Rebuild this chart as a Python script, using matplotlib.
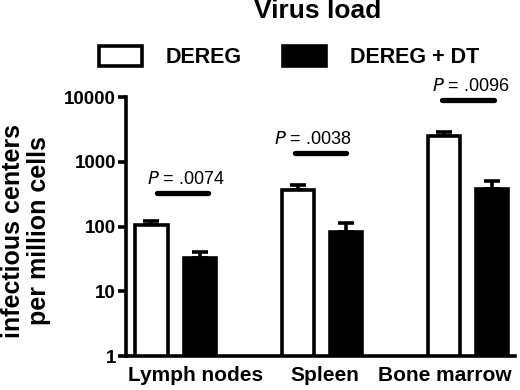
import numpy as np
import matplotlib
matplotlib.use("Agg")
import matplotlib.pyplot as plt
from matplotlib.patches import Patch

plt.rcParams['font.family'] = ['Liberation Sans', 'DejaVu Sans']

tissues = ['Lymph nodes', 'Spleen', 'Bone marrow']
dereg = [105, 365, 2550]
dereg_err = [18, 80, 330]
dereg_dt = [33, 82, 375]
dereg_dt_err = [8, 30, 140]
p_labels = ['.0074', '.0038', '.0096']
p_line_y = [330, 1380, 9000]
p_text_y = [540, 2250, 14500]

x = np.arange(len(tissues))
w = 0.22
off = 0.165
label_shift = [0.137, 0.02, -0.158]
line_lo = [-0.13, -0.185, -0.175]
line_hi = [0.225, 0.165, 0.175]
text_shift = [0.07, -0.06, 0.02]

fig = plt.figure(figsize=(5.2, 3.9), dpi=100)
ax = fig.add_axes([0.242, 0.087, 0.748, 0.664])

ax.bar(x - off, dereg, w, color='white', edgecolor='black', linewidth=2.6, zorder=2)
ax.bar(x + off, dereg_dt, w, color='black', edgecolor='black', linewidth=2.6, zorder=2)
ax.errorbar(x - off, dereg, yerr=[np.zeros(3), dereg_err], fmt='none', ecolor='black',
            elinewidth=2.6, capsize=6, capthick=2.6, zorder=1)
ax.errorbar(x + off, dereg_dt, yerr=[np.zeros(3), dereg_dt_err], fmt='none', ecolor='black',
            elinewidth=2.6, capsize=6, capthick=2.6, zorder=1)

ax.set_yscale('log')
ax.set_ylim(1, 10000)
ax.set_xlim(-0.34, 2.32)
ax.set_yticks([1, 10, 100, 1000, 10000])
ax.set_yticklabels(['1', '10', '100', '1000', '10000'])
ax.yaxis.set_minor_locator(matplotlib.ticker.NullLocator())
ax.set_xticks(x + np.array(label_shift))
ax.set_xticklabels(tissues)

for s in ['top', 'right']:
    ax.spines[s].set_visible(False)
for s in ['left', 'bottom']:
    ax.spines[s].set_linewidth(2.6)
ax.tick_params(axis='y', length=6, width=2.6, labelsize=13.5, pad=1)
ax.tick_params(axis='x', length=0, labelsize=15, pad=7)
for lab in ax.get_xticklabels() + ax.get_yticklabels():
    lab.set_fontweight('bold')

fig.text(0.05, 0.408, 'infectious centers\nper million cells', rotation=90, ha='center',
         va='center', fontsize=18, fontweight='bold', linespacing=1.15)

# significance bars
for i in range(3):
    ax.plot([x[i] + line_lo[i], x[i] + line_hi[i]], [p_line_y[i], p_line_y[i]], color='black',
            lw=3.8, solid_capstyle='round', clip_on=False)
    ax.text(x[i] + text_shift[i], p_text_y[i], r'$\it{P}$ = ' + p_labels[i], ha='center',
            va='center', fontsize=13, clip_on=False)

fig.text(0.61, 0.972, 'Virus load', ha='center', va='center', fontsize=19, fontweight='bold')

handles = [Patch(facecolor='white', edgecolor='black', linewidth=2.6, label='DEREG'),
           Patch(facecolor='black', edgecolor='black', linewidth=2.6, label='DEREG + DT')]
leg = fig.legend(handles=handles, loc='center', bbox_to_anchor=(0.556, 0.854), ncol=2,
                 frameon=False, handlelength=2.0, handleheight=1.1, handletextpad=1.1,
                 columnspacing=1.9, prop={'size': 15.5, 'weight': 'bold'})

fig.savefig('out.png', dpi=100)
